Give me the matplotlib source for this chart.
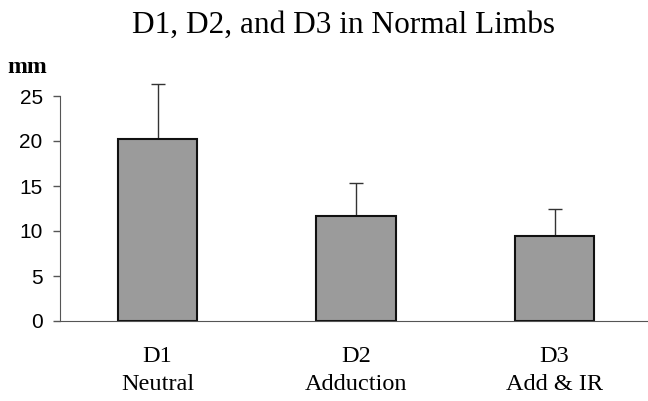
import matplotlib.pyplot as plt

categories = ["D1\nNeutral", "D2\nAdduction", "D3\nAdd & IR"]
means = [20.25, 11.65, 9.4]
sd = [6.05, 3.7, 3.0]
yticks = [0, 5, 10, 15, 20, 25]

fig = plt.figure(figsize=(6.48, 4.01), dpi=100)
ax = fig.add_axes([60 / 648, 1 - 321 / 401, 1 - 60 / 648, 225 / 401])

x = range(len(categories))
ax.bar(x, means, width=0.4, color="#9b9b9b", edgecolor="#111111", linewidth=1.5, zorder=2)
ax.errorbar(x, means, yerr=[[0] * len(sd), sd], fmt="none", ecolor="#333333",
            elinewidth=1, capsize=4.7, capthick=1, clip_on=False, zorder=1)

ax.set_xlim(-0.492, 2.471)
ax.set_ylim(0, 25)
ax.set_yticks(yticks)
ax.set_yticklabels([str(t) for t in yticks], family="Liberation Sans", fontsize=15)
ax.set_xticks(list(x))
ax.set_xticklabels(categories, family="Liberation Serif", fontsize=17.5, linespacing=1.45)
ax.tick_params(axis="x", length=0, pad=18)
ax.tick_params(axis="y", length=5, width=1, color="#555555", pad=7.5)

for s in ["top", "right"]:
    ax.spines[s].set_visible(False)
ax.spines["left"].set_color("#555555")
ax.spines["bottom"].set_color("#555555")

fig.text(0.53, 1 - 33 / 401, "D1, D2, and D3 in Normal Limbs", family="Liberation Serif",
         fontsize=22.5, ha="center", va="baseline")
fig.text(7 / 648, 1 - 73 / 401, "mm", family="Liberation Serif", fontsize=17,
         weight="bold", ha="left", va="baseline")

fig.savefig("out.png", dpi=100)
